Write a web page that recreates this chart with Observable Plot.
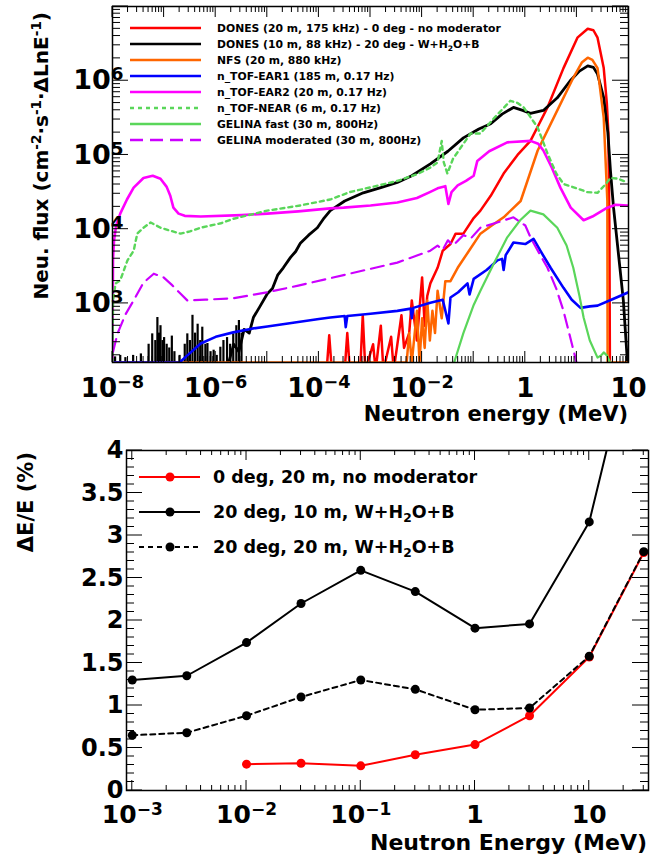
<!DOCTYPE html>
<html><head><meta charset="utf-8">
<script src="https://cdn.jsdelivr.net/npm/d3@7"></script>
<script src="https://cdn.jsdelivr.net/npm/@observablehq/plot@0.6"></script>
<style>
body{margin:0;background:#fff;}
#wrap{position:relative;width:660px;height:857px;overflow:hidden;}
#wrap svg{display:block;}
</style></head><body><div id="wrap"></div>
<script>
// ---------------- TOP PANEL DATA: [log10(E/MeV), log10(flux)] ----------------
const donesRed = [[-3.85,2.1],[-3.8,2.57],[-3.75,2.1],[-3.5,2.1],[-3.45,2.6],[-3.4,2.1],[-3.2,2.1],[-3.15,2.84],[-3.1,2.1],[-2.95,2.45],[-2.9,2.1],[-2.8,2.7],[-2.75,2.1],[-2.6,2.55],[-2.55,2.1],[-2.4,2.84],[-2.35,2.4],[-2.25,2.6],[-2.2,3.04],[-2.1,2.5],[-2.0,3.35],[-1.95,2.7],[-1.9,3.1],[-1.84,3.27],[-1.7,3.48],[-1.6,3.71],[-1.45,3.8],[-1.35,3.94],[-1.2,3.94],[-1.0,4.15],[-0.87,4.25],[-0.67,4.45],[-0.42,4.75],[-0.15,5.0],[0.10,5.19],[0.43,5.64],[0.74,6.17],[1.01,6.58],[1.21,6.70],[1.32,6.68],[1.40,6.58],[1.52,6.17],[1.58,5.7],[1.61,5.29],[1.63,4.0],[1.64,2.1]];
const donesBlackLow = [[-7.95,2.28],[-7.85,2.3],[-7.75,2.27],[-7.6,2.3],[-7.45,2.32],[-7.3,2.45],[-7.23,2.59],[-7.17,2.5],[-7.13,2.81],[-7.1,2.6],[-7.07,2.7],[-7.03,2.5],[-7.0,2.54],[-6.95,2.45],[-6.9,2.4],[-6.85,2.56],[-6.8,2.35],[-6.7,2.3],[-6.6,2.45],[-6.55,2.59],[-6.5,2.5],[-6.45,2.84],[-6.4,2.6],[-6.35,2.72],[-6.3,2.5],[-6.26,2.68],[-6.2,2.45],[-6.16,2.46],[-6.1,2.35],[-6.04,2.37],[-5.98,2.3],[-5.91,2.41],[-5.85,2.5],[-5.78,2.54],[-5.72,2.45],[-5.66,2.59],[-5.6,2.7],[-5.55,2.77],[-5.5,2.6]];
const donesBlack = [[-5.75,2.2],[-5.65,2.45],[-5.55,2.35],[-5.45,2.65],[-5.35,2.6],[-5.27,2.81],[-5.15,2.95],[-5.0,3.13],[-4.9,3.2],[-4.8,3.38],[-4.69,3.48],[-4.55,3.62],[-4.45,3.7],[-4.36,3.81],[-4.2,3.92],[-4.03,4.02],[-3.9,4.15],[-3.78,4.25],[-3.5,4.38],[-3.14,4.49],[-2.8,4.56],[-2.48,4.63],[-2.2,4.72],[-1.84,4.88],[-1.5,5.05],[-1.2,5.23],[-0.9,5.35],[-0.67,5.42],[-0.45,5.55],[-0.23,5.64],[-0.05,5.6],[0.10,5.56],[0.35,5.60],[0.62,5.77],[0.87,6.0],[1.05,6.13],[1.21,6.20],[1.32,6.18],[1.40,6.09],[1.52,5.77],[1.60,5.3],[1.65,4.79],[1.71,4.29],[1.80,3.7],[1.90,3.04],[1.98,2.2]];
const nfs = [[-8,2.204],[-2.3,2.204],[-2.25,2.6],[-2.2,2.204],[-2.1,2.9],[-2.05,2.204],[-2.0,2.8],[-1.95,2.4],[-1.9,3.04],[-1.85,2.5],[-1.8,2.9],[-1.75,2.6],[-1.7,3.17],[-1.62,2.8],[-1.55,3.3],[-1.45,3.3],[-1.31,3.48],[-1.1,3.7],[-0.87,3.94],[-0.65,4.05],[-0.42,4.16],[-0.09,4.38],[0.24,5.06],[0.62,5.60],[0.93,6.04],[1.1,6.25],[1.21,6.31],[1.30,6.28],[1.40,6.17],[1.52,5.50],[1.59,4.38],[1.595,2.204],[2.0,2.204]];
const ear1 = [[-8,2.204],[-6.7,2.204],[-6.5,2.33],[-6.29,2.46],[-6.0,2.55],[-5.66,2.61],[-5.3,2.66],[-5.0,2.69],[-4.5,2.74],[-4.0,2.79],[-3.78,2.81],[-3.5,2.83],[-3.48,2.68],[-3.45,2.83],[-3.0,2.86],[-2.48,2.90],[-2.22,2.93],[-2.2,2.80],[-2.17,2.94],[-1.84,3.01],[-1.6,3.05],[-1.49,2.73],[-1.45,3.08],[-1.3,3.15],[-1.12,3.27],[-1.08,3.12],[-1.0,3.33],[-0.75,3.45],[-0.54,3.58],[-0.45,3.6],[-0.42,3.45],[-0.38,3.65],[-0.23,3.82],[0.0,3.80],[0.16,3.87],[0.3,3.7],[0.49,3.48],[0.74,3.21],[0.9,3.05],[1.07,2.94],[1.25,2.96],[1.40,2.97],[1.7,3.06],[2.0,3.15]];
const ear2 = [[-8.0,2.2],[-7.99,3.6],[-7.97,3.85],[-7.93,4.05],[-7.85,4.21],[-7.72,4.4],[-7.59,4.56],[-7.40,4.69],[-7.22,4.72],[-7.07,4.68],[-6.95,4.57],[-6.88,4.45],[-6.82,4.29],[-6.72,4.21],[-6.6,4.18],[-6.29,4.17],[-5.5,4.19],[-5.0,4.21],[-4.4,4.24],[-3.78,4.28],[-3.52,4.29],[-3.0,4.32],[-2.48,4.36],[-2.1,4.42],[-1.85,4.5],[-1.70,4.55],[-1.55,4.58],[-1.49,4.34],[-1.43,4.5],[-1.31,4.59],[-1.15,4.65],[-1.0,4.72],[-0.93,4.92],[-0.7,5.05],[-0.35,5.17],[0.10,5.19],[0.25,5.15],[0.35,5.06],[0.5,4.85],[0.68,4.56],[0.88,4.29],[1.13,4.12],[1.3,4.17],[1.59,4.29],[1.75,4.33],[1.98,4.32]];
const near = [[-8.0,2.2],[-7.99,3.04],[-7.94,3.27],[-7.85,3.31],[-7.71,3.58],[-7.59,3.71],[-7.52,3.94],[-7.40,4.02],[-7.26,4.09],[-7.07,4.02],[-6.88,3.98],[-6.68,3.94],[-6.5,3.97],[-6.29,4.02],[-5.9,4.08],[-5.66,4.14],[-5.3,4.2],[-5.0,4.25],[-4.36,4.32],[-3.78,4.40],[-3.4,4.5],[-2.9,4.58],[-2.48,4.65],[-2.1,4.74],[-1.84,4.83],[-1.7,4.9],[-1.62,5.19],[-1.58,4.9],[-1.51,4.75],[-1.4,4.95],[-1.25,5.1],[-1.06,5.29],[-0.87,5.29],[-0.6,5.5],[-0.29,5.73],[-0.15,5.7],[-0.03,5.64],[0.24,5.37],[0.43,5.02],[0.6,4.75],[0.74,4.61],[1.0,4.55],[1.2,4.5],[1.40,4.49],[1.55,4.6],[1.65,4.69],[1.8,4.68],[1.98,4.63]];
const gelinaFast = [[-1.39,2.18],[-1.2,2.6],[-1.0,2.98],[-0.87,3.17],[-0.6,3.55],[-0.35,3.89],[-0.1,4.12],[0.10,4.25],[0.35,4.2],[0.62,4.02],[0.8,3.78],[0.93,3.48],[1.05,3.1],[1.13,2.81],[1.25,2.5],[1.40,2.27],[1.47,2.3],[1.52,2.34],[1.58,2.3],[1.65,2.2]];
const gelinaMod = [[-7.99,2.35],[-7.9,2.6],[-7.75,2.85],[-7.59,3.04],[-7.4,3.28],[-7.2,3.40],[-7.01,3.35],[-6.85,3.25],[-6.68,3.13],[-6.55,3.04],[-6.2,3.05],[-5.66,3.07],[-5.0,3.15],[-4.4,3.24],[-3.78,3.34],[-3.1,3.45],[-2.48,3.55],[-1.84,3.71],[-1.7,3.78],[-1.6,3.72],[-1.5,3.85],[-1.4,3.78],[-1.2,3.92],[-1.05,3.88],[-0.87,4.02],[-0.5,4.1],[-0.23,4.16],[0.0,4.05],[0.10,3.89],[0.25,3.7],[0.43,3.48],[0.6,3.2],[0.74,2.90],[0.85,2.6],[0.97,2.27],[1.0,2.18]];

const topXTickValues = [1e-8, 1e-6, 1e-4, 1e-2, 1, 1e2];
const topXTickLabels = ["10^{−8}", "10^{−6}", "10^{−4}", "10^{−2}", "1", "10"];
const topYTickValues = [1e3, 1e4, 1e5, 1e6];
const topYTickLabels = ["10^{3}", "10^{4}", "10^{5}", "10^{6}"];

const topLegend = [
  {label: "DONES (20 m, 175 kHz) - 0 deg - no moderator", color: "#ff0000", dash: null},
  {label: "DONES (10 m, 88 kHz) - 20 deg - W+H_{2}O+B", color: "#000000", dash: null},
  {label: "NFS (20 m, 880 kHz)", color: "#ff6600", dash: null},
  {label: "n_TOF-EAR1 (185 m, 0.17 Hz)", color: "#0000ff", dash: null},
  {label: "n_TOF-EAR2 (20 m, 0.17 Hz)", color: "#ff00ff", dash: null},
  {label: "n_TOF-NEAR (6 m, 0.17 Hz)", color: "#5ad65a", dash: "4,4"},
  {label: "GELINA fast (30 m, 800Hz)", color: "#5ad65a", dash: null},
  {label: "GELINA moderated (30 m, 800Hz)", color: "#cc00ff", dash: "13,7"}
];

// ---------------- BOTTOM PANEL DATA ----------------
const resEnergy = [1e-3, 3e-3, 1e-2, 3e-2, 0.1, 0.3, 1, 3, 10, 30];
const res0deg20m = [null, null, 0.31, 0.32, 0.29, 0.42, 0.54, 0.88, 1.57, 2.80];
const res20deg10m = [1.30, 1.35, 1.74, 2.20, 2.59, 2.34, 1.91, 1.96, 3.16, 5.8];
const res20deg20m = [0.65, 0.68, 0.88, 1.10, 1.30, 1.19, 0.95, 0.97, 1.58, 2.81];
const botXTickValues = [1e-3, 1e-2, 1e-1, 1, 10];
const botXTickLabels = ["10^{−3}", "10^{−2}", "10^{−1}", "1", "10"];
const botYTickValues = [0, 0.5, 1, 1.5, 2, 2.5, 3, 3.5, 4];
const botYTickLabels = ["0", "0.5", "1", "1.5", "2", "2.5", "3", "3.5", "4"];
const botLegend = [
  {label: "0 deg, 20 m, no moderator", color: "#ff0000", dash: null},
  {label: "20 deg, 10 m, W+H_{2}O+B", color: "#000000", dash: null},
  {label: "20 deg, 20 m, W+H_{2}O+B", color: "#000000", dash: "5,4"}
];

// ---------------- helpers ----------------
const FONT = "DejaVu Sans";
const toRows = arr => arr.map(([le, lf]) => ({E: 10 ** le, F: 10 ** lf}));
const fmtMap = (vals, labs) => { const m = new Map(vals.map((v, i) => [v, labs[i]])); return d => m.get(d) ?? ""; };

function richText(sel, str, supShift = "0.5em", subShift = "-0.35em") {
  const parts = str.split(/(\^\{[^}]*\}|_\{[^}]*\})/).filter(s => s.length);
  for (const tok of parts) {
    if (tok.startsWith("^{")) sel.append("tspan").attr("font-size", "68%").attr("baseline-shift", supShift).text(tok.slice(2, -1));
    else if (tok.startsWith("_{")) sel.append("tspan").attr("font-size", "70%").attr("baseline-shift", subShift).text(tok.slice(2, -1));
    else sel.append("tspan").text(tok);
  }
}
function fixRich(svg) {
  d3.select(svg).selectAll("text").each(function () {
    const t = this.textContent;
    if (/[\^_]\{/.test(t) && this.childElementCount === 0) { this.textContent = ""; richText(d3.select(this), t); }
  });
}
function logMinor(domain) {
  const out = [];
  for (let d = Math.floor(Math.log10(domain[0])); d <= Math.ceil(Math.log10(domain[1])); d++)
    for (let k = 2; k <= 9; k++) { const v = k * 10 ** d; if (v >= domain[0] && v <= domain[1]) out.push(v); }
  return out;
}
function logMajor(domain) {
  const out = [];
  for (let d = Math.ceil(Math.log10(domain[0]) - 1e-9); d <= Math.floor(Math.log10(domain[1]) + 1e-9); d++) out.push(10 ** d);
  return out;
}
function drawTicks(svg, chart, o) {
  const sx = chart.scale("x"), sy = chart.scale("y");
  const [xl, xr] = sx.range, [yb, yt] = sy.range;
  const g = d3.select(svg).append("g").attr("stroke", "black").attr("stroke-width", 1);
  const vx = (vals, L) => vals.forEach(v => { const x = sx.apply(v);
    g.append("line").attr("x1", x).attr("x2", x).attr("y1", yb).attr("y2", yb - L);
    g.append("line").attr("x1", x).attr("x2", x).attr("y1", yt).attr("y2", yt + L); });
  const hy = (vals, L) => vals.forEach(v => { const y = sy.apply(v);
    g.append("line").attr("x1", xl).attr("x2", xl + L).attr("y1", y).attr("y2", y);
    g.append("line").attr("x1", xr).attr("x2", xr - L).attr("y1", y).attr("y2", y); });
  vx(o.xMajor, o.xMajorLen); vx(o.xMinor, o.xMinorLen);
  hy(o.yMajor, o.yMajorLen); hy(o.yMinor, o.yMinorLen);
}
function addText(svg, {x, y, text, size, anchor = "start", rotate = 0}) {
  const t = d3.select(svg).append("text")
    .attr("transform", `translate(${x},${y}) rotate(${rotate})`)
    .attr("text-anchor", anchor).attr("font-family", FONT).attr("font-weight", "bold")
    .attr("font-size", size).attr("fill", "black");
  richText(t, text);
  return t;
}

const wrap = document.getElementById("wrap");

// ---------------- TOP CHART ----------------
const topXDomain = [1e-8, 1e2], topYDomain = [160, 1e7];
const lineOpts = (color, extra = {}) => ({x: "E", y: "F", stroke: color, strokeWidth: 2.5, clip: true, ...extra});
const topChart = Plot.plot({
  width: 660, height: 432,
  marginLeft: 112, marginRight: 32, marginTop: 6, marginBottom: 70,
  x: {type: "log", domain: topXDomain},
  y: {type: "log", domain: topYDomain},
  style: {fontFamily: FONT, fontWeight: "bold", fontSize: "24px", background: "white", color: "black"},
  marks: [
    Plot.line(toRows(donesRed), lineOpts("#ff0000")),
    Plot.ruleX(toRows(donesBlackLow), {x: "E", y1: topYDomain[0], y2: "F", stroke: "black", strokeWidth: 2.2, clip: true}),
    Plot.line(toRows(donesBlack), lineOpts("#000000", {strokeWidth: 2.8})),
    Plot.line(toRows(nfs), lineOpts("#ff6600")),
    Plot.line(toRows(ear1), lineOpts("#0000ff", {strokeWidth: 2.6})),
    Plot.line(toRows(ear2), lineOpts("#ff00ff", {strokeWidth: 2.6})),
    Plot.line(toRows(near), lineOpts("#5ad65a", {strokeDasharray: "4,4", strokeWidth: 2.4})),
    Plot.line(toRows(gelinaFast), lineOpts("#5ad65a", {strokeWidth: 2.2})),
    Plot.line(toRows(gelinaMod), lineOpts("#cc00ff", {strokeDasharray: "13,7", strokeWidth: 2.2})),
    Plot.axisX({anchor: "bottom", ticks: topXTickValues, tickFormat: fmtMap(topXTickValues, topXTickLabels), tickSize: 0, tickPadding: 16, label: null, fontSize: 26, fill: "black"}),
    Plot.axisY({anchor: "left", ticks: topYTickValues, tickFormat: fmtMap(topYTickValues, topYTickLabels), tickSize: 0, tickPadding: -11, label: null, fontSize: 27, fill: "black"}),
    Plot.frame({stroke: "black", strokeWidth: 1.5})
  ]
});
wrap.appendChild(topChart);
fixRich(topChart);
drawTicks(topChart, topChart, {
  xMajor: logMajor(topXDomain), xMajorLen: 11, xMinor: logMinor(topXDomain), xMinorLen: 6,
  yMajor: logMajor(topYDomain), yMajorLen: 16, yMinor: logMinor(topYDomain), yMinorLen: 8
});
addText(topChart, {x: 628, y: 421, text: "Neutron energy (MeV)", size: 21, anchor: "end"});
addText(topChart, {x: 48, y: 12, text: "Neu. flux (cm^{-2}·s^{-1}·ΔLnE^{-1})", size: 20, anchor: "end", rotate: -90});
{
  const g = d3.select(topChart).append("g");
  topLegend.forEach((d, i) => {
    const y = 28 + i * 16.0;
    g.append("line").attr("x1", 130).attr("x2", 201).attr("y1", y).attr("y2", y)
      .attr("stroke", d.color).attr("stroke-width", 2.5).attr("stroke-dasharray", d.dash);
    const t = g.append("text").attr("x", 217).attr("y", y).attr("dy", "0.36em")
      .attr("font-family", FONT).attr("font-weight", "bold").attr("font-size", 10.8).attr("fill", "black").attr("text-anchor", "start");
    richText(t, d.label);
  });
}

// ---------------- BOTTOM CHART ----------------
const botXDomain = [8.9e-4, 33], botYDomain = [0, 4];
const resRows = series => resEnergy.map((E, i) => ({E, R: series[i]})).filter(d => d.R != null);
const botChart = Plot.plot({
  width: 660, height: 425,
  marginLeft: 126, marginRight: 12, marginTop: 18, marginBottom: 67,
  x: {type: "log", domain: botXDomain},
  y: {domain: botYDomain},
  style: {fontFamily: FONT, fontWeight: "bold", fontSize: "24px", background: "white", color: "black"},
  marks: [
    Plot.line(resRows(res0deg20m), {x: "E", y: "R", stroke: "#ff0000", strokeWidth: 2, clip: true}),
    Plot.dot(resRows(res0deg20m), {x: "E", y: "R", fill: "#ff0000", r: 4.5, clip: true}),
    Plot.line(resRows(res20deg20m), {x: "E", y: "R", stroke: "#000000", strokeWidth: 2, strokeDasharray: "5,4", clip: true}),
    Plot.dot(resRows(res20deg20m), {x: "E", y: "R", fill: "#000000", r: 4.5, clip: true}),
    Plot.line(resRows(res20deg10m), {x: "E", y: "R", stroke: "#000000", strokeWidth: 2, clip: true}),
    Plot.dot(resRows(res20deg10m), {x: "E", y: "R", fill: "#000000", r: 4.5, clip: true}),
    Plot.axisX({anchor: "bottom", ticks: botXTickValues, tickFormat: fmtMap(botXTickValues, botXTickLabels), tickSize: 0, tickPadding: 15, label: null, fontSize: 25, fill: "black"}),
    Plot.axisY({anchor: "left", ticks: botYTickValues, tickFormat: fmtMap(botYTickValues, botYTickLabels), tickSize: 0, tickPadding: 3, label: null, fontSize: 24, fill: "black"}),
    Plot.frame({stroke: "black", strokeWidth: 1.5})
  ]
});
wrap.appendChild(botChart);
fixRich(botChart);
drawTicks(botChart, botChart, {
  xMajor: logMajor(botXDomain), xMajorLen: 10, xMinor: logMinor(botXDomain), xMinorLen: 5,
  yMajor: botYTickValues, yMajorLen: 16,
  yMinor: d3.range(0, 41).map(i => i / 10).filter(v => Math.abs(v * 2 - Math.round(v * 2)) > 1e-6), yMinorLen: 8
});
addText(botChart, {x: 647, y: 418, text: "Neutron Energy (MeV)", size: 22, anchor: "end"});
addText(botChart, {x: 33, y: 20, text: "ΔE/E (%)", size: 21, anchor: "end", rotate: -90});
{
  const g = d3.select(botChart).append("g");
  botLegend.forEach((d, i) => {
    const y = 45 + i * 35;
    g.append("line").attr("x1", 139).attr("x2", 200).attr("y1", y).attr("y2", y)
      .attr("stroke", d.color).attr("stroke-width", 2).attr("stroke-dasharray", d.dash);
    g.append("circle").attr("cx", 170).attr("cy", y).attr("r", 4.5).attr("fill", d.color);
    const t = g.append("text").attr("x", 213).attr("y", y).attr("dy", "0.36em")
      .attr("font-family", FONT).attr("font-weight", "bold").attr("font-size", 17.5).attr("fill", "black").attr("text-anchor", "start");
    richText(t, d.label);
  });
}
</script></body></html>
